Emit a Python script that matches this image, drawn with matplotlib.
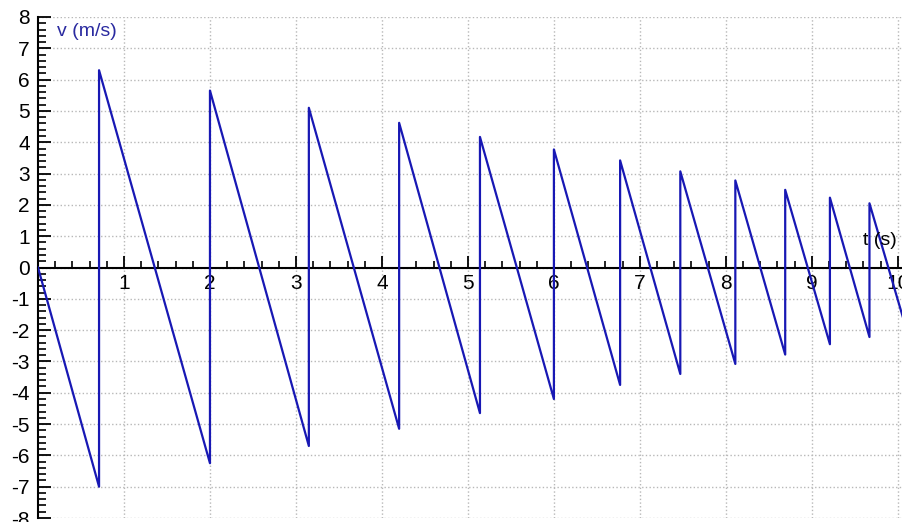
import numpy as np
import matplotlib.pyplot as plt
from matplotlib.ticker import MultipleLocator

# bounce times (s) and velocity just before / just after each bounce (m/s)
bounce_t = [0.71, 2.00, 3.15, 4.20, 5.14, 6.00, 6.77, 7.47, 8.11, 8.69, 9.21, 9.67]
v_before = [-7.0, -6.25, -5.7, -5.15, -4.65, -4.2, -3.75, -3.4, -3.08, -2.78, -2.45, -2.22]
v_after = [6.3, 5.65, 5.1, 4.62, 4.17, 3.77, 3.42, 3.07, 2.78, 2.48, 2.23, 2.05]
t_start, v_start = 0.0, 0.0
t_end, v_end = 10.06, -1.6

x_labels = [str(i) for i in range(1, 11)]
y_labels = [str(i) for i in range(-8, 9)]


def main():
    plt.rcParams['font.family'] = ['Liberation Sans', 'DejaVu Sans']

    t = [t_start]
    v = [v_start]
    for tb, vb, va in zip(bounce_t, v_before, v_after):
        t += [tb, tb]
        v += [vb, va]
    t.append(t_end)
    v.append(v_end)

    fig = plt.figure(figsize=(9.03, 5.22), dpi=100)
    ax = fig.add_axes([38 / 903, 4 / 522, 1 - 38 / 903, 501 / 522])
    ax.set_xlim(0, t_end)
    ax.set_ylim(-8, 8)

    ax.plot(t, v, color='#1818b4', lw=1.6, zorder=3)

    for s in ['top', 'right']:
        ax.spines[s].set_visible(False)
    ax.spines['bottom'].set_position(('data', 0))
    ax.spines['left'].set_linewidth(1.5)
    ax.spines['bottom'].set_linewidth(1.5)

    ax.set_xticks(range(1, 11))
    ax.set_xticklabels(x_labels)
    ax.set_yticks(range(-8, 9))
    ax.set_yticklabels(y_labels)
    ax.xaxis.set_minor_locator(MultipleLocator(0.2))
    ax.yaxis.set_minor_locator(MultipleLocator(0.2))
    ax.tick_params(axis='x', which='major', direction='in', length=9, width=1.3,
                   labelsize=15, pad=5)
    ax.tick_params(axis='x', which='minor', direction='in', length=5, width=1.2)
    ax.tick_params(axis='y', which='major', direction='in', length=9, width=1.3,
                   labelsize=15, pad=6)
    ax.tick_params(axis='y', which='minor', direction='in', length=6, width=1.2)

    ax.grid(True, which='major', color='#b8b8b8', linestyle=':', linewidth=1.0)
    ax.set_axisbelow(True)

    ax.text(0.22, 7.55, 'v (m/s)', color='#2a2aa0', fontsize=14, va='center')
    ax.text(9.6, 0.85, 't (s)', color='black', fontsize=14, va='center')

    fig.savefig('out.png', dpi=100)


if __name__ == '__main__':
    main()
